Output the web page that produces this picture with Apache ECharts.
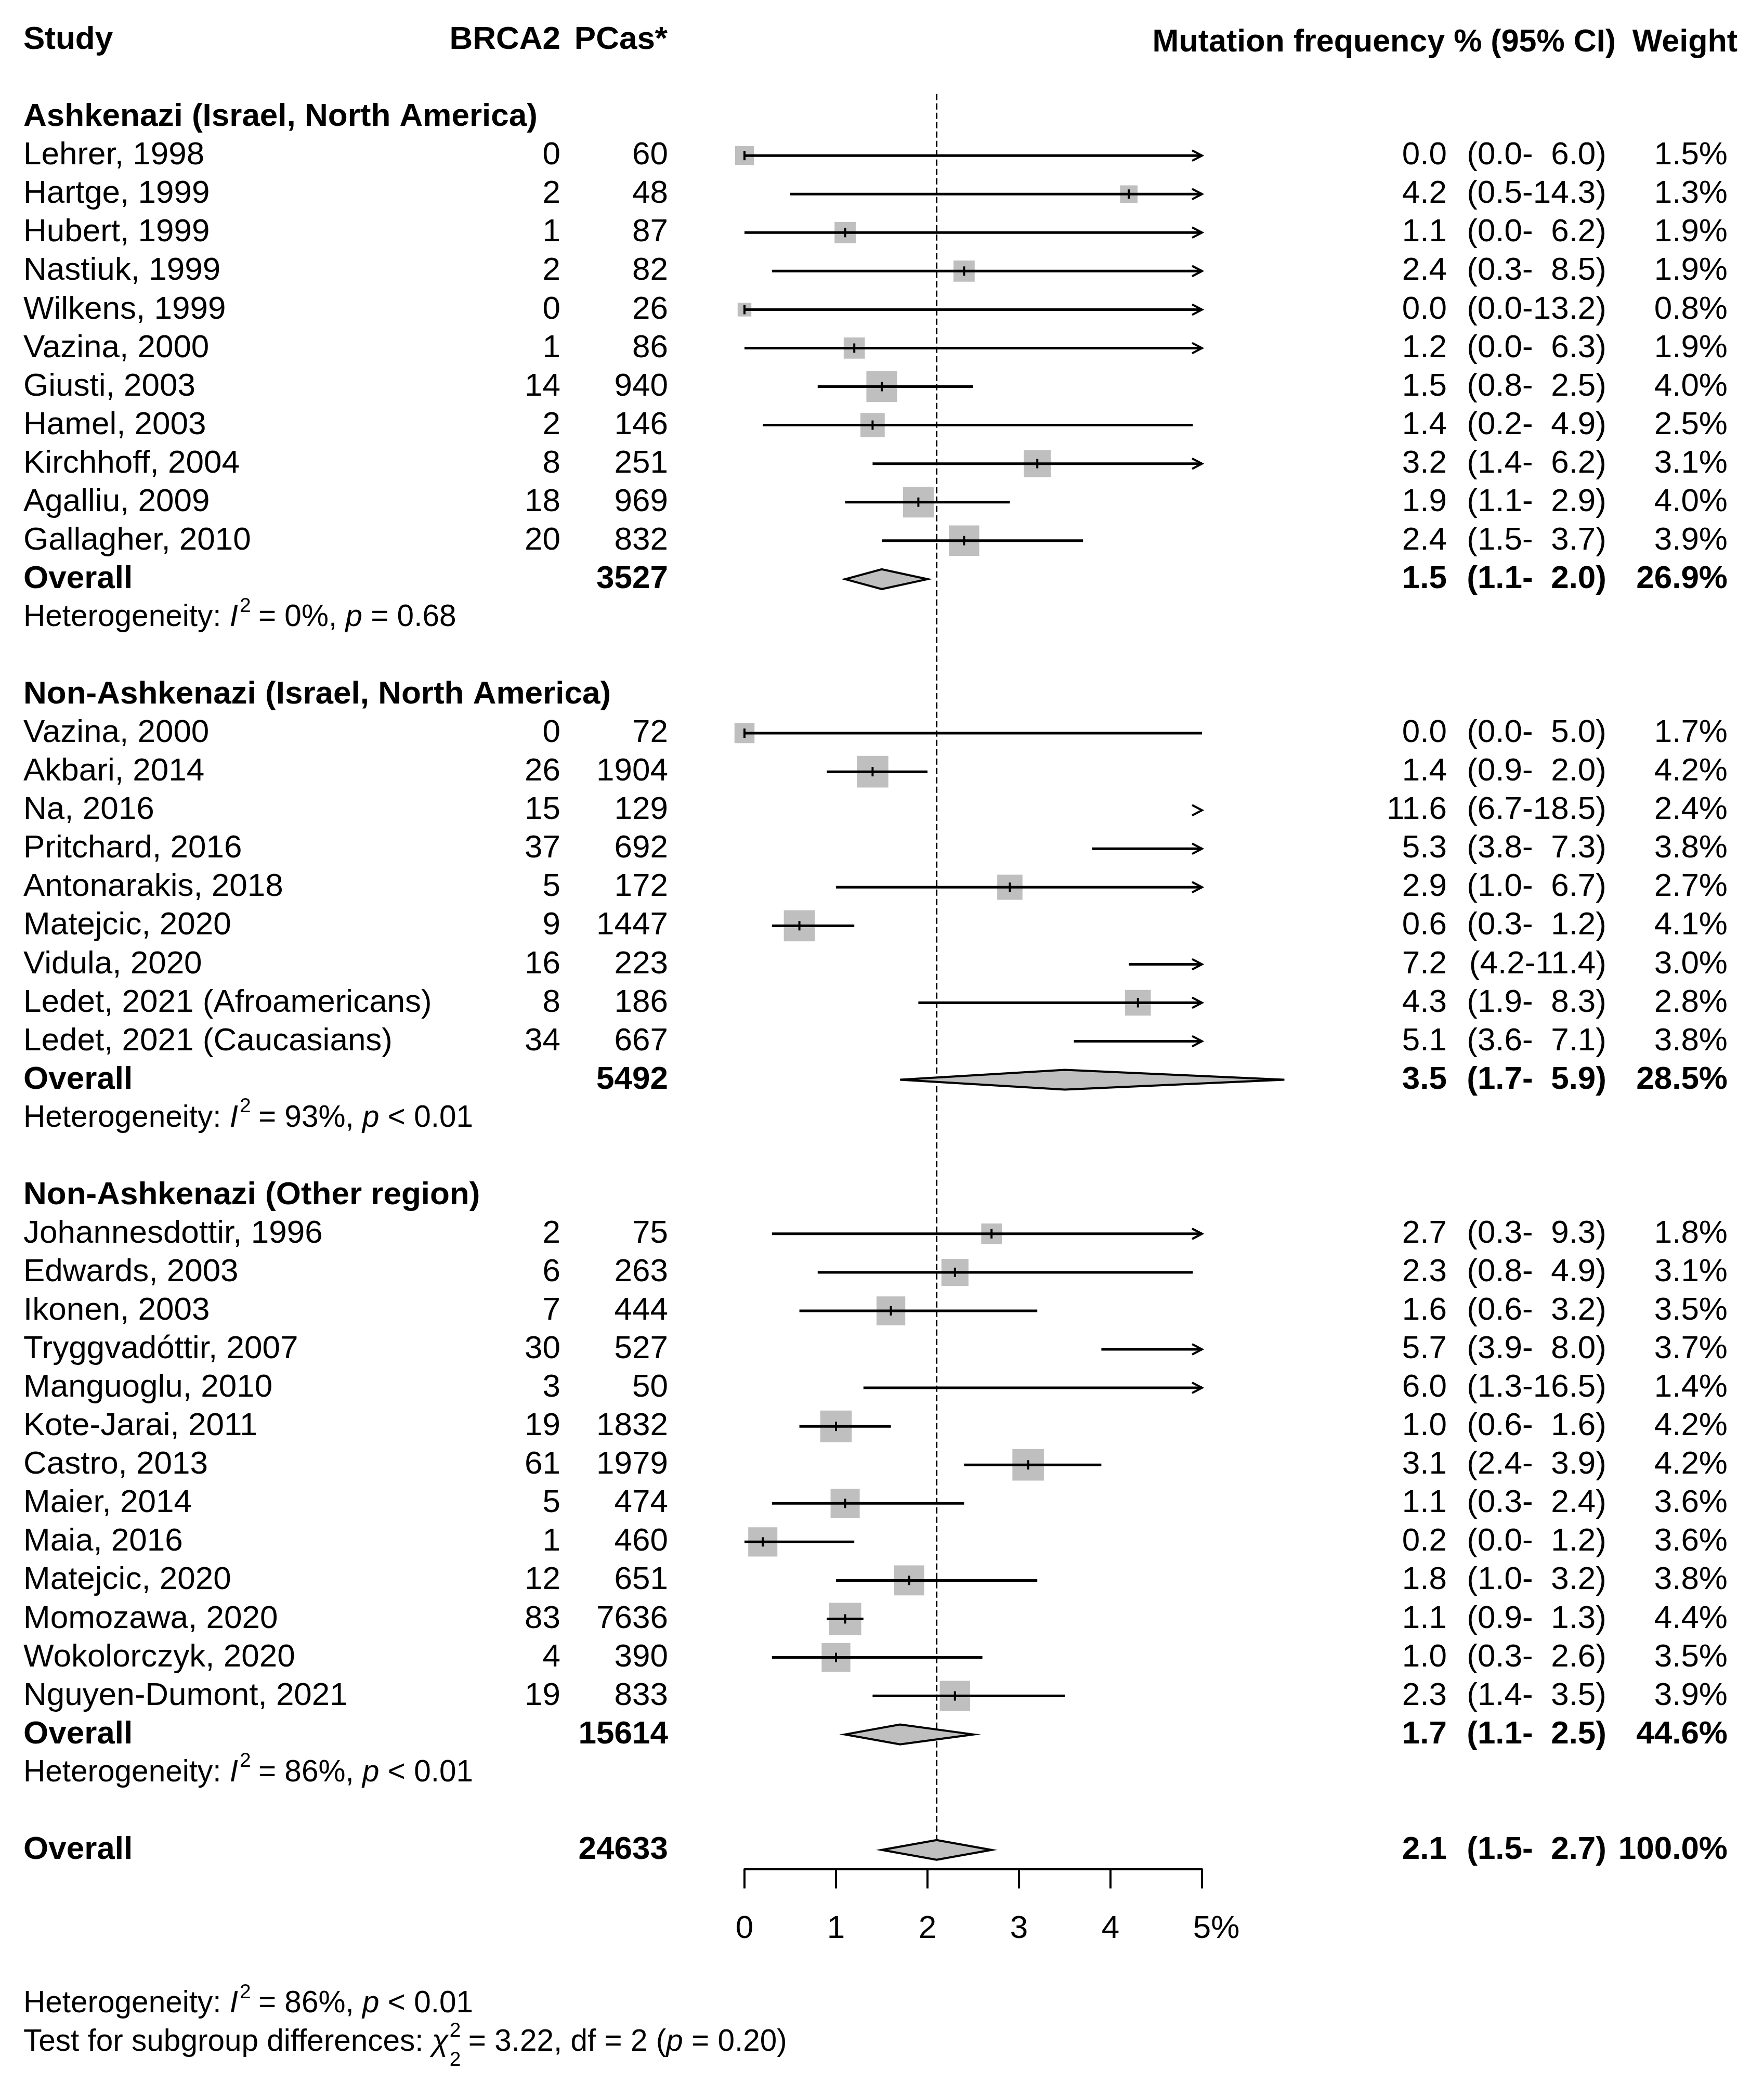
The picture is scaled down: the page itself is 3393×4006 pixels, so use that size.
<!DOCTYPE html>
<html><head><meta charset="utf-8">
<script src="https://cdn.jsdelivr.net/npm/echarts@6/dist/echarts.min.js"></script>
<style>html,body{margin:0;padding:0;background:#fff}#c{width:3393px;height:4006px}</style>
</head><body><div id="c"></div>
<script>
// ================= DATA =================
const groupNames = ['Ashkenazi (Israel, North America)', 'Non-Ashkenazi (Israel, North America)', 'Non-Ashkenazi (Other region)'];

const studies1 = ['Lehrer, 1998','Hartge, 1999','Hubert, 1999','Nastiuk, 1999','Wilkens, 1999','Vazina, 2000','Giusti, 2003','Hamel, 2003','Kirchhoff, 2004','Agalliu, 2009','Gallagher, 2010'];
const events1  = [0, 2, 1, 2, 0, 1, 14, 2, 8, 18, 20];
const totals1  = [60, 48, 87, 82, 26, 86, 940, 146, 251, 969, 832];
const est1     = [0.0, 4.2, 1.1, 2.4, 0.0, 1.2, 1.5, 1.4, 3.2, 1.9, 2.4];
const lower1   = [0.0, 0.5, 0.0, 0.3, 0.0, 0.0, 0.8, 0.2, 1.4, 1.1, 1.5];
const upper1   = [6.0, 14.3, 6.2, 8.5, 13.2, 6.3, 2.5, 4.9, 6.2, 2.9, 3.7];
const weight1  = [1.5, 1.3, 1.9, 1.9, 0.8, 1.9, 4.0, 2.5, 3.1, 4.0, 3.9];

const studies2 = ['Vazina, 2000','Akbari, 2014','Na, 2016','Pritchard, 2016','Antonarakis, 2018','Matejcic, 2020','Vidula, 2020','Ledet, 2021 (Afroamericans)','Ledet, 2021 (Caucasians)'];
const events2  = [0, 26, 15, 37, 5, 9, 16, 8, 34];
const totals2  = [72, 1904, 129, 692, 172, 1447, 223, 186, 667];
const est2     = [0.0, 1.4, 11.6, 5.3, 2.9, 0.6, 7.2, 4.3, 5.1];
const lower2   = [0.0, 0.9, 6.7, 3.8, 1.0, 0.3, 4.2, 1.9, 3.6];
const upper2   = [5.0, 2.0, 18.5, 7.3, 6.7, 1.2, 11.4, 8.3, 7.1];
const weight2  = [1.7, 4.2, 2.4, 3.8, 2.7, 4.1, 3.0, 2.8, 3.8];

const studies3 = ['Johannesdottir, 1996','Edwards, 2003','Ikonen, 2003','Tryggvadóttir, 2007','Manguoglu, 2010','Kote-Jarai, 2011','Castro, 2013','Maier, 2014','Maia, 2016','Matejcic, 2020','Momozawa, 2020','Wokolorczyk, 2020','Nguyen-Dumont, 2021'];
const events3  = [2, 6, 7, 30, 3, 19, 61, 5, 1, 12, 83, 4, 19];
const totals3  = [75, 263, 444, 527, 50, 1832, 1979, 474, 460, 651, 7636, 390, 833];
const est3     = [2.7, 2.3, 1.6, 5.7, 6.0, 1.0, 3.1, 1.1, 0.2, 1.8, 1.1, 1.0, 2.3];
const lower3   = [0.3, 0.8, 0.6, 3.9, 1.3, 0.6, 2.4, 0.3, 0.0, 1.0, 0.9, 0.3, 1.4];
const upper3   = [9.3, 4.9, 3.2, 8.0, 16.5, 1.6, 3.9, 2.4, 1.2, 3.2, 1.3, 2.6, 3.5];
const weight3  = [1.8, 3.1, 3.5, 3.7, 1.4, 4.2, 4.2, 3.6, 3.6, 3.8, 4.4, 3.5, 3.9];

const groupTotals = [3527, 5492, 15614];
const groupEst    = [1.5, 3.5, 1.7];
const groupLower  = [1.1, 1.7, 1.1];
const groupUpper  = [2.0, 5.9, 2.5];
const groupWeight = [26.9, 28.5, 44.6];
const groupI2     = ['0%', '93%', '86%'];
const groupP      = ['= 0.68', '< 0.01', '< 0.01'];

const overallTotal  = 24633;
const overallEst    = 2.1;
const overallLower  = 1.5;
const overallUpper  = 2.7;
const overallWeight = 100.0;
const overallI2     = '86%';
const overallP      = '< 0.01';
const subgroupChi2  = '3.22';
const subgroupDf    = '2';
const subgroupP     = '= 0.20';

const xTicks = [0, 1, 2, 3, 4, 5];
const headers = ['Study', 'BRCA2', 'PCas*', 'Mutation frequency % (95% CI)', 'Weight'];

// ================= LAYOUT / STYLE =================
const FF = '"Liberation Sans", Arial, Helvetica, sans-serif';
const FS = 62, HETFS = 58.5, SUPFS = 39;
const AX_MIN = xTicks[0], AX_MAX = xTicks[xTicks.length - 1];
const SQ_MAX = 62;          // px side of square for max weight
const DIAMOND_H = 19;       // half-height of diamonds (px)
const GREY = '#BFBFBF';
const COL = {
  name:   {x: 45,   align: 'left'},
  events: {x: 1078, align: 'right'},
  totals: {x: 1285, align: 'right'},
  est:    {x: 2783, align: 'right'},
  ci:     {x: 3090, align: 'right'},
  w:      {x: 3323, align: 'right'}
};

const mctx = document.createElement('canvas').getContext('2d');
function fontStr(size, bold, italic) { return (italic ? 'italic ' : '') + (bold ? 'bold ' : '') + size + 'px ' + FF; }
function tw(t, size, bold, italic) { mctx.font = fontStr(size, bold, italic); return mctx.measureText(t).width; }

const f1 = v => v.toFixed(1);
const ciStr = (lo, hi) => { const h = f1(hi); return '(' + f1(lo) + '-' + (h.length < 4 ? '  ' : '') + h + ')'; };

// ================= BUILD TABLE =================
const groups = [
  {names: studies1, ev: events1, n: totals1, est: est1, lo: lower1, hi: upper1, w: weight1},
  {names: studies2, ev: events2, n: totals2, est: est2, lo: lower2, hi: upper2, w: weight2},
  {names: studies3, ev: events3, n: totals3, est: est3, lo: lower3, hi: upper3, w: weight3}
];
const maxW = Math.max(...weight1, ...weight2, ...weight3);

const labels = [];     // text items
const studyMarks = []; // [row, est, lo, hi, w]
const diamonds = [];   // [row, est, lo, hi]
function addText(row, col, text, bold, extra) { labels.push(Object.assign({row, kind: 'text', x: COL[col].x, align: COL[col].align, text: String(text), bold: !!bold}, extra || {})); }
function hetParts(i2, p) {
  return [{t: 'Heterogeneity: '}, {t: 'I', it: true, gap: 3}, {t: '2', sup: true, gap: -2}, {t: ' = ' + i2 + ', '}, {t: 'p', it: true}, {t: ' ' + p}];
}

// header row 0
addText(0, 'name', headers[0], true);
addText(0, 'events', headers[1], true);
labels.push({row: 0, kind: 'text', x: 1284, align: 'right', text: headers[2], bold: true});
labels.push({row: 0, kind: 'text', x: 3108, align: 'right', text: headers[3], bold: true, dy: 5, size: 61});
labels.push({row: 0, kind: 'text', x: 3342, align: 'right', text: headers[4], bold: true, dy: 5, size: 61});

let r = 2;
groups.forEach((g, gi) => {
  addText(r, 'name', groupNames[gi], true); r++;
  g.names.forEach((nm, i) => {
    addText(r, 'name', nm);
    addText(r, 'events', g.ev[i]);
    addText(r, 'totals', g.n[i]);
    addText(r, 'est', f1(g.est[i]));
    addText(r, 'ci', ciStr(g.lo[i], g.hi[i]));
    addText(r, 'w', f1(g.w[i]) + '%');
    studyMarks.push([r, g.est[i], g.lo[i], g.hi[i], g.w[i]]);
    r++;
  });
  addText(r, 'name', 'Overall', true);
  addText(r, 'totals', groupTotals[gi], true);
  addText(r, 'est', f1(groupEst[gi]), true);
  addText(r, 'ci', ciStr(groupLower[gi], groupUpper[gi]), true);
  addText(r, 'w', f1(groupWeight[gi]) + '%', true);
  diamonds.push([r, groupEst[gi], groupLower[gi], groupUpper[gi]]);
  r++;
  labels.push({row: r, kind: 'seg', x: COL.name.x, parts: hetParts(groupI2[gi], groupP[gi])}); r++;
  r++;
});
const overallRow = r;
addText(r, 'name', 'Overall', true);
addText(r, 'totals', overallTotal, true);
addText(r, 'est', f1(overallEst), true);
addText(r, 'ci', ciStr(overallLower, overallUpper), true);
addText(r, 'w', f1(overallWeight) + '%', true);
diamonds.push([r, overallEst, overallLower, overallUpper]);
labels.push({row: r + 4, kind: 'seg', x: COL.name.x, parts: hetParts(overallI2, overallP)});
labels.push({row: r + 5, kind: 'seg', x: COL.name.x, parts: [
  {t: 'Test for subgroup differences: '}, {t: 'χ', it: true, gap: 2}, {t: '2', sup: true, sub2: subgroupDf, gap: -2},
  {t: ' = ' + subgroupChi2 + ', df = ' + subgroupDf + ' ('}, {t: 'p', it: true}, {t: ' ' + subgroupP + ')'}
]});

const Y_MAX = overallRow + 0.5;
const ROW_PX = 74.06, TOP = 77;

// ================= RENDER HELPERS =================
function textEl(x, y, text, o) {
  return {type: 'text', x: x, y: y, style: {text: text, fill: '#000', fontSize: o.size || FS,
    fontWeight: o.bold ? 'bold' : 'normal', fontStyle: o.italic ? 'italic' : 'normal', fontFamily: FF,
    align: o.align || 'left', verticalAlign: 'middle'}};
}
function segEl(x0, y, parts) {
  const ch = []; let x = x0;
  parts.forEach(p => {
    const size = p.sup ? SUPFS : HETFS;
    const dy = p.sup ? -22 : 0;
    ch.push(textEl(x, y + dy, p.t, {size: size, italic: p.it}));
    let w = tw(p.t, size, false, p.it);
    if (p.sub2) { ch.push(textEl(x, y + 34, p.sub2, {size: SUPFS})); w = Math.max(w, tw(p.sub2, SUPFS)); }
    x += w + (p.gap || 0);
  });
  return {type: 'group', children: ch};
}

const chart = echarts.init(document.getElementById('c'), null, {renderer: 'canvas'});
chart.setOption({
  animation: false,
  backgroundColor: '#fff',
  textStyle: {fontFamily: FF},
  grid: {left: 1432, width: 880, top: TOP, height: Y_MAX * ROW_PX, containLabel: false, outerBoundsMode: 'none'},
  xAxis: {
    type: 'value', min: AX_MIN, max: AX_MAX, interval: 1,
    axisLine: {show: true, onZero: false, lineStyle: {color: '#000', width: 4}},
    axisTick: {show: true, inside: false, length: 37, lineStyle: {color: '#000', width: 4}},
    splitLine: {show: false},
    axisLabel: {
      show: true, margin: 115, color: '#000', fontSize: FS, fontFamily: FF, verticalAlign: 'middle', hideOverlap: false,
      formatter: v => (v === AX_MAX ? '{p|' + v + '%}' : String(v)),
      rich: {p: {fontSize: FS, fontFamily: FF, color: '#000', padding: [0, 0, 0, tw('%', FS)]}}
    }
  },
  yAxis: {type: 'value', min: 0, max: Y_MAX, inverse: true, show: false, splitLine: {show: false}},
  series: [
    { // reference dashed line at overall estimate
      type: 'custom', coordinateSystem: 'cartesian2d', clip: false, z: 1, silent: true,
      data: [[overallEst, overallRow]], encode: {x: 0, y: 1},
      renderItem: (p, api) => {
        const x = api.coord([api.value(0), 0])[0];
        const y0 = api.coord([0, 1.4])[1];
        const y1 = api.coord([0, api.value(1)])[1] - DIAMOND_H;
        return {type: 'line', shape: {x1: x, y1: y0, x2: x, y2: y1}, style: {stroke: '#000', lineWidth: 3, lineDash: [12, 6]}};
      }
    },
    { // study CIs and squares
      type: 'custom', coordinateSystem: 'cartesian2d', clip: false, z: 2, silent: true,
      data: studyMarks, encode: {x: [1, 2, 3], y: 0},
      renderItem: (p, api) => {
        const row = api.value(0), est = api.value(1), lo = api.value(2), hi = api.value(3), w = api.value(4);
        const X = v => api.coord([v, row])[0];
        const y = api.coord([0, row])[1];
        const ch = [];
        const inRange = est >= AX_MIN && est <= AX_MAX;
        if (inRange) {
          const s = SQ_MAX * Math.sqrt(w / maxW);
          ch.push({type: 'rect', shape: {x: X(est) - s / 2, y: y - s / 2, width: s, height: s}, style: {fill: GREY}});
        }
        if (lo < AX_MAX) {
          ch.push({type: 'line', shape: {x1: X(Math.max(lo, AX_MIN)), y1: y, x2: X(Math.min(hi, AX_MAX)), y2: y}, style: {stroke: '#000', lineWidth: 5}});
        }
        if (hi > AX_MAX) {
          const xt = X(AX_MAX);
          ch.push({type: 'polyline', shape: {points: [[xt - 19, y - 10], [xt, y], [xt - 19, y + 10]]}, style: {stroke: '#000', lineWidth: 4, fill: null}});
        }
        if (inRange) {
          ch.push({type: 'line', shape: {x1: X(est), y1: y - 9, x2: X(est), y2: y + 9}, style: {stroke: '#000', lineWidth: 4}});
        }
        return {type: 'group', children: ch};
      }
    },
    { // pooled diamonds
      type: 'custom', coordinateSystem: 'cartesian2d', clip: false, z: 3, silent: true,
      data: diamonds, encode: {x: [1, 2, 3], y: 0},
      renderItem: (p, api) => {
        const row = api.value(0);
        const X = v => api.coord([v, row])[0];
        const y = api.coord([0, row])[1];
        const e = X(api.value(1)), l = X(api.value(2)), h = X(api.value(3));
        return {type: 'polygon', shape: {points: [[l, y], [e, y - DIAMOND_H], [h, y], [e, y + DIAMOND_H]]},
          style: {fill: GREY, stroke: '#000', lineWidth: 4, lineJoin: 'miter'}};
      }
    },
    { // table text
      type: 'custom', coordinateSystem: 'cartesian2d', clip: false, z: 4, silent: true,
      data: labels.map(L => [0, L.row]), encode: {x: 0, y: 1},
      renderItem: (p, api) => {
        const L = labels[p.dataIndex];
        const y = api.coord([0, api.value(1)])[1] + (L.dy || 0);
        if (L.kind === 'seg') return segEl(L.x, y, L.parts);
        return textEl(L.x, y, L.text, {bold: L.bold, align: L.align, size: L.size});
      }
    }
  ]
});
</script>
</body></html>
